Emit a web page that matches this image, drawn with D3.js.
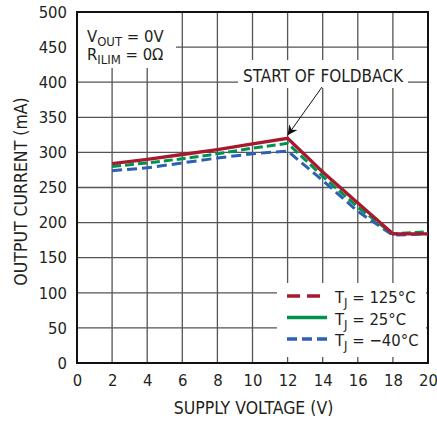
<!DOCTYPE html>
<html><head><meta charset="utf-8">
<script src="https://cdn.jsdelivr.net/npm/d3@7"></script>
<style>
body{margin:0;background:#fff;}
text{font-family:"Liberation Sans Narrow","DejaVu Sans Condensed",sans-serif;fill:#231f20;}
</style></head>
<body><svg id="c" width="437" height="421"></svg>
<script>
const voltages = [2,4,6,8,10,12,14,16,18,20];
const t125 = [284,290,297,304,312,320,272,228,184,184];
const t25  = [280,285,291,298,306,313,266,222,184,187];
const tm40 = [274,278,285,292,298,302,260,216,182,184];
const xTicks = [0,2,4,6,8,10,12,14,16,18,20];
const yTicks = [0,50,100,150,200,250,300,350,400,450,500];
const seriesNames = ["125°C","25°C","\u221240°C"];
const seriesColors = ["#a6192e","#00934f","#2d5fb2"];

const svg = d3.select("#c");
const m = {l:77, r:9, t:12, b:58};
const W = 437, H = 421;
const x = d3.scaleLinear().domain([0,20]).range([m.l, W-m.r]);
const y = d3.scaleLinear().domain([0,500]).range([H-m.b, m.t]);

// grid
const g = svg.append("g");
g.selectAll(".vx").data(xTicks.slice(1,-1)).enter().append("line")
 .attr("x1",d=>x(d)).attr("x2",d=>x(d)).attr("y1",y(0)).attr("y2",y(500))
 .attr("stroke","#555").attr("stroke-width",1.3);
g.selectAll(".hy").data(yTicks.slice(1,-1)).enter().append("line")
 .attr("y1",d=>y(d)).attr("y2",d=>y(d)).attr("x1",x(0)).attr("x2",x(20))
 .attr("stroke","#555").attr("stroke-width",1.3);

// white label boxes
svg.append("rect").attr("x",x(0)+1).attr("y",y(500)+1).attr("width",98).attr("height",55).attr("fill","#fff");
svg.append("rect").attr("x",238).attr("y",60).attr("width",170).attr("height",28).attr("fill","#fff");
svg.append("rect").attr("x",277).attr("y",283).attr("width",149).attr("height",74).attr("fill","#fff");

// axes tick labels
const xa = d3.axisBottom(x).tickValues(xTicks).tickSize(0).tickPadding(11);
svg.append("g").attr("transform",`translate(0,${y(0)})`).call(xa)
  .call(s=>s.select(".domain").remove())
  .selectAll("text").style("font-size","16.5px").attr("fill","#231f20");
const ya = d3.axisLeft(y).tickValues(yTicks).tickSize(0).tickPadding(10);
svg.append("g").attr("transform",`translate(${x(0)},0)`).call(ya)
  .call(s=>s.select(".domain").remove())
  .selectAll("text").style("font-size","16.5px").attr("fill","#231f20");

// frame
svg.append("rect").attr("x",x(0)).attr("y",y(500)).attr("width",x(20)-x(0)).attr("height",y(0)-y(500))
 .attr("fill","none").attr("stroke","#111").attr("stroke-width",2);

// axis titles
svg.append("text").attr("x",(x(0)+x(20))/2+1).attr("y",414).attr("text-anchor","middle")
 .style("font-size","17.5px").text("SUPPLY VOLTAGE (V)");
svg.append("text").attr("transform",`translate(27,${(y(0)+y(500))/2+4}) rotate(-90)`).attr("text-anchor","middle")
 .style("font-size","17.5px").text("OUTPUT CURRENT (mA)");

// lines
const line = d3.line().x(d=>x(d[0])).y(d=>y(d[1]));
const data = [t125,t25,tm40].map(arr=>voltages.map((v,i)=>[v,arr[i]]));
const dashes = [null,"9,4","10,5"];
[2,1,0].forEach(i=>{
  svg.append("path").datum(data[i]).attr("d",line).attr("fill","none")
   .attr("stroke",seriesColors[i]).attr("stroke-width",i===0?3.3:3)
   .attr("stroke-dasharray",dashes[i]).attr("stroke-linejoin","miter");
});

// annotations
const t1 = svg.append("text").attr("x",87).attr("y",42).style("font-size","16.5px");
t1.append("tspan").text("V");
t1.append("tspan").attr("dy",4).style("font-size","13px").text("OUT");
t1.append("tspan").attr("dy",-4).text(" = 0V");
const t2 = svg.append("text").attr("x",87).attr("y",60).style("font-size","16.5px");
t2.append("tspan").text("R");
t2.append("tspan").attr("dy",4).style("font-size","13px").text("ILIM");
t2.append("tspan").attr("dy",-4).text(" = 0\u03A9");

svg.append("text").attr("x",323).attr("y",82).attr("text-anchor","middle").style("font-size","17px").text("START OF FOLDBACK");
svg.append("defs").append("marker").attr("id","ah").attr("viewBox","0 0 10 10").attr("refX",10).attr("refY",5)
 .attr("markerWidth",12).attr("markerHeight",10).attr("markerUnits","userSpaceOnUse").attr("orient","auto")
 .append("path").attr("d","M0,0 L10,5 L0,10 L3,5 Z").attr("fill","#111");
svg.append("line").attr("x1",322).attr("y1",87).attr("x2",x(12)).attr("y2",y(320)-3)
 .attr("stroke","#111").attr("stroke-width",1).attr("marker-end","url(#ah)");

// legend
const legDash = ["13,7",null,"10,5"];
seriesNames.forEach((n,i)=>{
  const yy = 296 + i*21.5;
  svg.append("line").attr("x1",287).attr("x2",327).attr("y1",yy).attr("y2",yy)
   .attr("stroke",seriesColors[i]).attr("stroke-width",3.5).attr("stroke-dasharray",legDash[i]);
  const t = svg.append("text").attr("x",335).attr("y",yy+7).style("font-size","16.5px");
  t.append("tspan").text("T");
  t.append("tspan").attr("dy",4).style("font-size","13px").text("J");
  t.append("tspan").attr("dy",-4).text(" = "+n);
});
</script></body></html>
